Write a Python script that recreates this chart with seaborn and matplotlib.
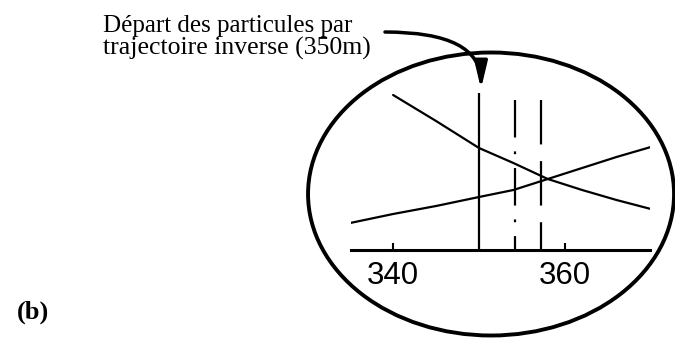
import matplotlib
matplotlib.use("Agg")
import matplotlib.pyplot as plt
from matplotlib.patches import Ellipse, FancyArrowPatch
import numpy as np
import pandas as pd
import seaborn as sns

# Distance along the section (m) and the two profiles crossing near 358 m
dist_falling = [340, 345, 350, 354, 358, 362, 366, 370]
val_falling = [15.5, 12.9, 10.2, 8.7, 7.1, 6.0, 5.0, 4.1]
dist_rising = [335, 340, 345, 350, 354, 358, 362, 366, 370]
val_rising = [2.7, 3.6, 4.4, 5.3, 6.0, 7.1, 8.2, 9.3, 10.3]

# Vertical markers: particle release point and the two other positions
release_x = 350
dashdot_x = 354.2
dashed_x = 357.2
marker_top = 15.0

tick_values = [340, 360]
tick_labels = ["340", "360"]

label_lines = ["Départ des particules par", "trajectoire inverse (350m)"]
panel_label = "(b)"

sns.set_theme(style="white")
plt.rcParams["lines.scale_dashes"] = False

W, H = 675, 338
fig = plt.figure(figsize=(W / 100, H / 100), dpi=100)
fig.patch.set_facecolor("white")

# inner axes: x from 335.1 to 369.9, y from 0 to 15.7
ax = fig.add_axes([351 / W, (H - 250) / H, 299 / W, 157 / H])
ax.set_xlim(335.1, 369.9)
ax.set_ylim(0, 15.7)
ax.set_facecolor("none")

df = pd.concat([
    pd.DataFrame({"x": dist_falling, "y": val_falling, "courbe": "a"}),
    pd.DataFrame({"x": dist_rising, "y": val_rising, "courbe": "b"}),
])
sns.lineplot(data=df, x="x", y="y", hue="courbe", palette=["black", "black"],
             estimator=None, legend=False, linewidth=1.6, ax=ax)

ax.plot([release_x, release_x], [15.7, 0], color="black", lw=1.6, solid_capstyle="butt")
ax.plot([dashdot_x, dashdot_x], [marker_top, 0], color="black", lw=1.6,
        linestyle=(0, (27, 10, 2, 10)))
ax.plot([dashed_x, dashed_x], [marker_top, 0], color="black", lw=1.6,
        linestyle=(0, (32, 12)))

for s in ["top", "right", "left"]:
    ax.spines[s].set_visible(False)
ax.spines["bottom"].set_linewidth(2.2)
ax.spines["bottom"].set_color("black")
ax.set_yticks([])
ax.set_xticks(tick_values)
ax.set_xticklabels(tick_labels, family="Liberation Sans")
ax.tick_params(axis="x", direction="in", length=5, width=1.5, pad=8,
               labelsize=22.5, colors="black", bottom=True)
ax.set_xlabel("")
ax.set_ylabel("")

# enclosing ellipse
ell = Ellipse((351.4, 5.6), 42.6, 28.3, fill=False, edgecolor="black",
              lw=2.8, clip_on=False)
ax.add_patch(ell)

# annotation text
serif = ["Liberation Serif", "DejaVu Serif"]
fig.text(103 / W, 1 - 32 / H, label_lines[0], family=serif, fontsize=18,
         va="baseline", ha="left", color="black")
fig.text(103 / W, 1 - 55 / H, label_lines[1], family=serif, fontsize=18.5,
         va="baseline", ha="left", color="black")
fig.text(17 / W, 1 - 319 / H, panel_label, family=serif, fontsize=19,
         fontweight="bold", va="baseline", ha="left", color="black")

# curved arrow pointing to the release line
arrow = FancyArrowPatch((385, H - 32), (481, H - 89), transform=None,
                        connectionstyle="angle3,angleA=0,angleB=90",
                        arrowstyle="-|>,head_length=16,head_width=3.8",
                        mutation_scale=1, lw=2.5, color="black",
                        shrinkA=0, shrinkB=0)
fig.add_artist(arrow)

fig.savefig("out.png", dpi=100, facecolor="white")
